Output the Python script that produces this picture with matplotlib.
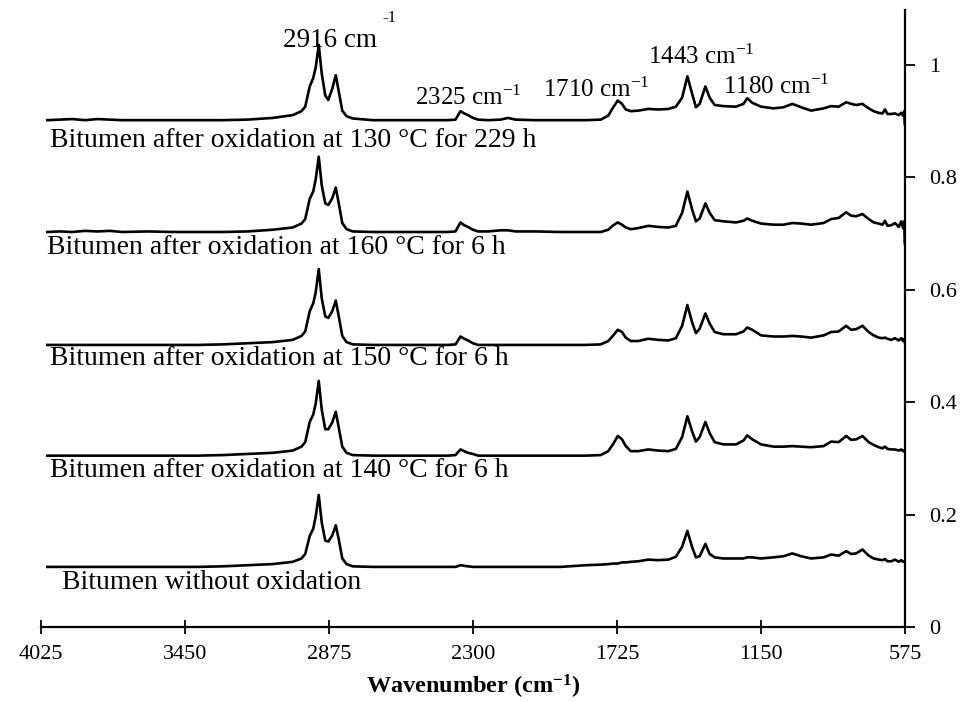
import matplotlib
matplotlib.use("Agg")
from matplotlib import pyplot as plt

plt.rcParams['font.family'] = ['Liberation Serif', 'DejaVu Serif']
plt.rcParams['mathtext.default'] = 'regular'

# wavenumber grid (cm-1), shared by all spectra
wavenumber = [4000, 3950, 3900, 3850, 3800, 3750, 3700, 3600, 3500, 3400, 3300, 3200, 3100, 3020, 2985,
              2970, 2952, 2938, 2928, 2916, 2904, 2890, 2878, 2862, 2848, 2836, 2822, 2805, 2780, 2700,
              2600, 2500, 2400, 2370, 2350, 2335, 2320, 2300, 2280, 2240, 2190, 2160, 2130, 2050, 1950,
              1850, 1790, 1760, 1740, 1722, 1705, 1690, 1670, 1640, 1600, 1560, 1520, 1490, 1465, 1444,
              1425, 1410, 1395, 1372, 1355, 1335, 1300, 1250, 1220, 1205, 1185, 1150, 1100, 1060, 1025,
              990, 950, 900, 870, 840, 810, 790, 770, 745, 720, 700, 680, 665, 655, 645,
              630, 615, 600, 590, 583, 578, 576]

# intensities (without vertical offset)
ox_130_229h = [0.000, 0.001, 0.002, 0.000, 0.002, 0.001, 0.000, 0.000, 0.000, 0.000, 0.000, 0.001, 0.004, 0.009, 0.016,
               0.024, 0.060, 0.075, 0.094, 0.134, 0.083, 0.044, 0.036, 0.056, 0.080, 0.051, 0.017, 0.007, 0.003, 0.000,
               0.000, 0.000, 0.000, 0.001, 0.016, 0.012, 0.009, 0.004, 0.001, 0.000, 0.001, 0.004, 0.001, 0.000, 0.000,
               0.000, 0.001, 0.008, 0.023, 0.035, 0.029, 0.019, 0.016, 0.017, 0.020, 0.019, 0.020, 0.024, 0.040, 0.078,
               0.047, 0.023, 0.029, 0.060, 0.040, 0.027, 0.025, 0.024, 0.029, 0.039, 0.031, 0.024, 0.021, 0.023, 0.029,
               0.023, 0.017, 0.021, 0.025, 0.024, 0.032, 0.029, 0.027, 0.029, 0.021, 0.016, 0.013, 0.012, 0.019, 0.011,
               0.011, 0.012, 0.009, 0.013, 0.008, 0.016, -0.007]
ox_160_6h = [0.000, 0.001, 0.000, 0.002, 0.001, 0.002, 0.000, 0.001, 0.000, 0.000, 0.000, 0.001, 0.004, 0.008, 0.015,
             0.023, 0.059, 0.072, 0.094, 0.134, 0.083, 0.051, 0.048, 0.060, 0.079, 0.051, 0.016, 0.005, 0.001, 0.000,
             0.000, 0.000, 0.000, 0.001, 0.017, 0.012, 0.009, 0.004, 0.001, 0.001, 0.003, 0.003, 0.001, 0.001, 0.000,
             0.000, 0.000, 0.004, 0.012, 0.017, 0.013, 0.008, 0.005, 0.007, 0.011, 0.009, 0.008, 0.011, 0.034, 0.072,
             0.040, 0.019, 0.024, 0.051, 0.034, 0.021, 0.019, 0.017, 0.020, 0.024, 0.020, 0.015, 0.013, 0.013, 0.016,
             0.015, 0.013, 0.016, 0.023, 0.025, 0.035, 0.029, 0.028, 0.032, 0.023, 0.017, 0.015, 0.013, 0.020, 0.011,
             0.012, 0.016, 0.009, 0.019, 0.007, 0.019, -0.020]
ox_150_6h = [0.000, 0.000, 0.000, 0.000, 0.000, 0.000, 0.000, 0.000, 0.000, 0.000, 0.001, 0.003, 0.005, 0.009, 0.016,
             0.024, 0.060, 0.074, 0.094, 0.135, 0.083, 0.051, 0.048, 0.060, 0.079, 0.051, 0.016, 0.005, 0.001, 0.000,
             0.000, 0.000, 0.000, 0.001, 0.015, 0.011, 0.008, 0.003, 0.000, 0.000, 0.000, 0.000, 0.000, 0.000, 0.000,
             0.000, 0.001, 0.007, 0.017, 0.027, 0.023, 0.013, 0.007, 0.007, 0.011, 0.009, 0.008, 0.012, 0.034, 0.071,
             0.040, 0.021, 0.029, 0.056, 0.038, 0.023, 0.019, 0.019, 0.024, 0.031, 0.027, 0.017, 0.015, 0.015, 0.016,
             0.015, 0.013, 0.017, 0.023, 0.024, 0.034, 0.027, 0.028, 0.034, 0.023, 0.017, 0.013, 0.012, 0.013, 0.011,
             0.009, 0.012, 0.008, 0.012, 0.007, 0.011, 0.005]
ox_140_6h = [0.000, 0.000, 0.000, 0.000, 0.000, 0.000, 0.000, 0.000, 0.000, 0.000, 0.001, 0.003, 0.005, 0.009, 0.016,
             0.024, 0.060, 0.073, 0.093, 0.133, 0.082, 0.047, 0.047, 0.059, 0.078, 0.050, 0.016, 0.005, 0.001, 0.000,
             0.000, 0.000, 0.000, 0.001, 0.011, 0.008, 0.005, 0.003, 0.000, 0.000, 0.000, 0.000, 0.000, 0.000, 0.000,
             0.000, 0.001, 0.008, 0.021, 0.035, 0.029, 0.017, 0.008, 0.008, 0.011, 0.009, 0.008, 0.012, 0.033, 0.070,
             0.043, 0.025, 0.033, 0.060, 0.040, 0.024, 0.020, 0.020, 0.027, 0.036, 0.029, 0.020, 0.016, 0.016, 0.017,
             0.016, 0.015, 0.017, 0.025, 0.024, 0.035, 0.028, 0.029, 0.035, 0.024, 0.019, 0.015, 0.013, 0.016, 0.012,
             0.011, 0.011, 0.009, 0.011, 0.008, 0.009, 0.007]
no_oxidation = [0.000, 0.000, 0.000, 0.000, 0.000, 0.000, 0.000, 0.000, 0.000, 0.000, 0.001, 0.003, 0.005, 0.009, 0.015,
                0.023, 0.055, 0.068, 0.090, 0.128, 0.079, 0.047, 0.045, 0.056, 0.074, 0.049, 0.015, 0.005, 0.001, 0.000,
                0.000, 0.000, 0.000, 0.000, 0.003, 0.002, 0.001, 0.000, 0.000, 0.000, 0.000, 0.000, 0.000, 0.000, 0.000,
                0.003, 0.004, 0.005, 0.006, 0.006, 0.008, 0.008, 0.009, 0.010, 0.013, 0.012, 0.013, 0.018, 0.036, 0.064,
                0.035, 0.017, 0.019, 0.041, 0.023, 0.017, 0.015, 0.015, 0.015, 0.017, 0.017, 0.015, 0.017, 0.019, 0.024,
                0.019, 0.015, 0.017, 0.022, 0.020, 0.028, 0.023, 0.024, 0.031, 0.020, 0.015, 0.013, 0.012, 0.014, 0.010,
                0.010, 0.013, 0.009, 0.012, 0.009, 0.010, 0.009]

spectra = [ox_130_229h, ox_160_6h, ox_150_6h, ox_140_6h, no_oxidation]
offsets = [0.902, 0.703, 0.502, 0.305, 0.107]
labels = ["Bitumen after oxidation at 130 \u00b0C for 229 h",
          "Bitumen after oxidation at 160 \u00b0C for 6 h",
          "Bitumen after oxidation at 150 \u00b0C for 6 h",
          "Bitumen after oxidation at 140 \u00b0C for 6 h",
          "Bitumen without oxidation"]
label_pos = [(3989, 0.865), (4001, 0.676), (3989, 0.477), (3989, 0.279), (3941, 0.080)]

peak_labels = ["2325", "1710", "1443", "1180"]
peak_label_pos = [(2533, 0.941), (2022, 0.956), (1600, 1.014), (1300, 0.961)]

x_ticks = [4025, 3450, 2875, 2300, 1725, 1150, 575]
y_ticks = [0, 0.2, 0.4, 0.6, 0.8, 1]
y_ticklabels = ["0", "0.2", "0.4", "0.6", "0.8", "1"]

fig = plt.figure(figsize=(9.67, 7.02), dpi=100)
ax = fig.add_axes([0.0424, 0.1068, 0.8935, 0.8789])

for s, off in zip(spectra, offsets):
    ax.plot(wavenumber, [v + off for v in s], color='black', lw=1.9)

for lab, (x, y) in zip(labels, label_pos):
    ax.text(x, y, lab, fontsize=20, ha='left', va='center')

ax.text(3059, 1.044, "2916 cm", fontsize=19.5, ha='left', va='center')
ax.text(2660, 1.084, "-1", fontsize=12, ha='left', va='center')
for lab, (x, y) in zip(peak_labels, peak_label_pos):
    ax.text(x, y, lab + " cm$^{-1}$", fontsize=18, ha='left', va='center')

ax.set_xlim(4025, 575)
ax.set_ylim(0, 1.098)
ax.spines['left'].set_visible(False)
ax.spines['top'].set_visible(False)
ax.spines['right'].set_linewidth(1.6)
ax.spines['bottom'].set_linewidth(1.6)
ax.yaxis.tick_right()
ax.set_xticks(x_ticks)
ax.set_xticklabels([str(t) for t in x_ticks])
ax.set_yticks(y_ticks)
ax.set_yticklabels(y_ticklabels)
ax.tick_params(axis='x', direction='inout', length=10, width=1.3, labelsize=16, pad=8)
ax.tick_params(axis='y', direction='out', length=7, width=1.3, labelsize=16, pad=10)
ax.set_xlabel("Wavenumber (cm$^{-1}$)", fontsize=17.5, fontweight='bold', labelpad=6)

fig.savefig("out.png", dpi=100)
